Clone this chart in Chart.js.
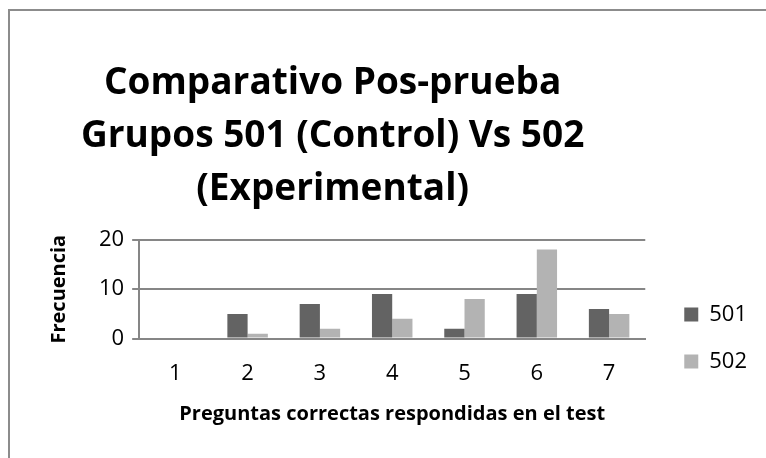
<!DOCTYPE html>
<html>
<head>
<meta charset="utf-8">
<script src="https://cdn.jsdelivr.net/npm/chart.js@4"></script>
<style>
  body { margin: 0; background: #fff; overflow: hidden; }
  #box {
    position: absolute; left: 8px; top: 9px;
    width: 770px; height: 460px;
    border-left: 2px solid #8c8c8c; border-top: 2px solid #8c8c8c;
    background: #fff;
  }
  #wrap { position: absolute; left: 0; top: 0; width: 756px; height: 447px; }
</style>
</head>
<body>
<div id="box"><div id="wrap"><canvas id="grafico"></canvas></div></div>
<script>
const preguntas = ['1', '2', '3', '4', '5', '6', '7'];
const grupo501 = [0, 5, 7, 9, 2, 9, 6];
const grupo502 = [0, 1, 2, 4, 8, 18, 5];
const titulo = ['Comparativo Pos-prueba', 'Grupos 501 (Control) Vs 502', '(Experimental)'];

const fuente = "'Open Sans', sans-serif";
Chart.defaults.font.family = fuente;
Chart.defaults.color = '#000';

// el titulo va centrado sobre la zona del grafico, no sobre todo el lienzo
const tituloCentrado = {
  id: 'tituloCentrado',
  afterLayout(chart) {
    const t = chart.titleBlock;
    t.left = 0;
    t.right = chart.chartArea.right + 10;
  }
};

const ctx = document.getElementById('grafico');

new Chart(ctx, {
  type: 'bar',
  data: {
    labels: preguntas,
    datasets: [{
      label: '501',
      data: grupo501,
      backgroundColor: '#636363',
      borderWidth: 0,
    }, {
      label: '502',
      data: grupo502,
      backgroundColor: '#b3b3b3',
      borderWidth: 0,
    }]
  },
  plugins: [tituloCentrado],
  options: {
    responsive: true,
    maintainAspectRatio: false,
    animation: false,
    categoryPercentage: 0.56,
    barPercentage: 1,
    layout: {
      padding: { left: 36, right: 9, top: 46, bottom: 32 }
    },
    plugins: {
      title: {
        display: true,
        text: titulo,
        font: { size: 37, weight: 'bold', lineHeight: 1.43 },
        padding: { top: 0, bottom: 24 }
      },
      legend: {
        position: 'right',
        align: 'start',
        title: {
          display: true,
          text: '',
          font: { size: 12 },
          padding: { top: 207, bottom: 0 }
        },
        labels: {
          boxWidth: 14,
          boxHeight: 14,
          padding: 25,
          font: { size: 22 }
        }
      },
      tooltip: { enabled: false }
    },
    scales: {
      y: {
        min: 0,
        max: 20,
        ticks: {
          stepSize: 10,
          font: { size: 22 },
          padding: 8
        },
        grid: {
          color: '#868686',
          lineWidth: 2,
          tickLength: 7
        },
        border: { display: true, color: '#868686', width: 2 },
        title: {
          display: true,
          text: 'Frecuencia',
          font: { size: 20, weight: 'bold' },
          padding: { top: 1, bottom: 20 }
        }
      },
      // eje vacio a la derecha, solo deja aire entre el grafico y la leyenda
      hueco: {
        type: 'linear',
        position: 'right',
        display: true,
        ticks: { display: false },
        grid: { display: false, drawTicks: false },
        border: { display: false },
        afterFit: function (escala) { escala.width = 14; }
      },
      x: {
        ticks: {
          font: { size: 22 },
          padding: 22
        },
        grid: { display: false, drawTicks: false },
        border: { display: true, color: '#868686', width: 2 },
        title: {
          display: true,
          text: 'Preguntas correctas respondidas en el test',
          font: { size: 20, weight: 'bold' },
          padding: { top: -7, bottom: 0 }
        }
      }
    }
  }
});
</script>
</body>
</html>
